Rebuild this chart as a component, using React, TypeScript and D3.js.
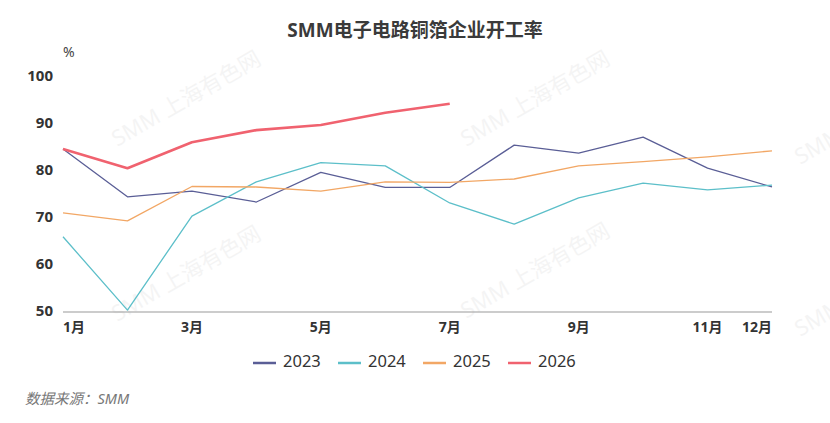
import React from 'react';
import * as d3 from 'd3';

const months = ['1月', '2月', '3月', '4月', '5月', '6月', '7月', '8月', '9月', '10月', '11月', '12月'];
const shownMonths = ['1月', '3月', '5月', '7月', '9月', '11月', '12月'];
const yTicks = [50, 60, 70, 80, 90, 100];

const s2023 = [84.7, 74.5, 75.7, 73.4, 79.7, 76.5, 76.5, 85.5, 83.8, 87.2, 80.6, 76.6];
const s2024 = [66.0, 50.4, 70.4, 77.7, 81.8, 81.1, 73.2, 68.7, 74.3, 77.4, 76.0, 77.0];
const s2025 = [71.1, 69.4, 76.7, 76.6, 75.7, 77.7, 77.6, 78.3, 81.1, 82.0, 83.0, 84.3];
const s2026 = [84.7, 80.6, 86.1, 88.7, 89.8, 92.4, 94.3];

const series = [
  { name: '2023', values: s2023, color: '#5a5e96', width: 1.3 },
  { name: '2024', values: s2024, color: '#5cbfc9', width: 1.3 },
  { name: '2025', values: s2025, color: '#f2a765', width: 1.3 },
  { name: '2026', values: s2026, color: '#f0626f', width: 2.6 },
];

const watermarks = [
  [187, 100], [536, 100], [870, 118],
  [187, 275], [536, 272], [870, 290],
];

const W = 830;
const H = 423;
const font = '"Noto Sans", "Noto Sans CJK SC", sans-serif';

const App = () => {
  const x = d3.scalePoint<string>().domain(months).range([63, 772]);
  const y = d3.scaleLinear().domain([50, 100]).range([312, 77]);

  const line = d3
    .line<number>()
    .x((_, i) => x(months[i]) as number)
    .y((d) => y(d));

  const legendX = [253, 338, 423, 508];

  return (
    <svg
      width={W}
      height={H}
      style={{ position: 'absolute', left: 0, top: 0, background: '#fff' }}
      fontFamily={font}
    >
      <g clipPath="url(#page)">
        <clipPath id="page">
          <rect x={0} y={0} width={W} height={H} />
        </clipPath>
        {watermarks.map(([cx, cy], i) => (
          <text
            key={i}
            x={cx}
            y={cy}
            transform={`rotate(-30 ${cx} ${cy})`}
            textAnchor="middle"
            dominantBaseline="middle"
            fontSize={22}
            fill="#000"
            opacity={0.04}
          >
            SMM 上海有色网
          </text>
        ))}
      </g>

      <text x={415} y={37} textAnchor="middle" fontSize={19} fontWeight="bold" fill="#3a3a3a">
        SMM电子电路铜箔企业开工率
      </text>

      <text x={63} y={57} fontSize={14} fill="#444">
        %
      </text>

      {yTicks.map((t) => (
        <text
          key={t}
          x={53}
          y={y(t)}
          textAnchor="end"
          dominantBaseline="middle"
          fontSize={15}
          fontWeight="bold"
          fill="#333"
        >
          {t}
        </text>
      ))}

      <line x1={63} x2={772} y1={y(50)} y2={y(50)} stroke="#999" strokeWidth={1.2} />

      {shownMonths.map((m, i) => {
        const anchor = i === 0 ? 'start' : i === shownMonths.length - 1 ? 'end' : 'middle';
        return (
          <text
            key={m}
            x={x(m)}
            y={332}
            textAnchor={anchor}
            fontSize={14}
            fontWeight="bold"
            fill="#333"
          >
            {m}
          </text>
        );
      })}

      {series.map((s) => (
        <path
          key={s.name}
          d={line(s.values) || ''}
          fill="none"
          stroke={s.color}
          strokeWidth={s.width}
          strokeLinejoin="round"
        />
      ))}

      {series.map((s, i) => (
        <g key={s.name} transform={`translate(${legendX[i]}, 363)`}>
          <line x1={0} x2={23} y1={0} y2={0} stroke={s.color} strokeWidth={2.5} />
          <text x={30} y={0} dominantBaseline="middle" fontSize={16.5} fill="#333">
            {s.name}
          </text>
        </g>
      ))}

      <text x={25} y={404} fontSize={14.5} fontStyle="italic" fill="#777">
        数据来源：SMM
      </text>
    </svg>
  );
};

export default App;
